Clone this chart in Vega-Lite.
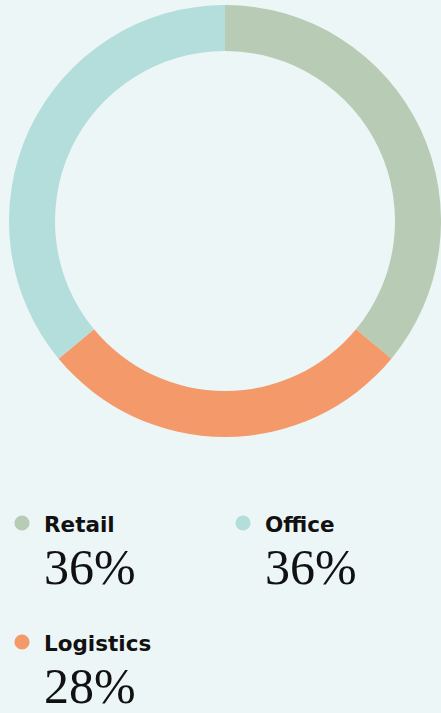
{
  "$schema": "https://vega.github.io/schema/vega-lite/v6.json",
  "padding": 0,
  "background": "#edf6f7",
  "config": {"view": {"stroke": null}, "header": {"labels": false, "title": null, "labelFontSize": 0, "labelPadding": 0, "titlePadding": 0}},
  "datasets": {
    "shares": [
      {"category": "Retail", "share": 0.36},
      {"category": "Logistics", "share": 0.28},
      {"category": "Office", "share": 0.36}
    ]
  },
  "spacing": 0,
  "bounds": "flush",
  "vconcat": [
    {
      "width": 441,
      "height": 442,
      "data": {"name": "shares"},
      "transform": [{"window": [{"op": "row_number", "as": "rank"}]}],
      "mark": {"type": "arc", "innerRadius": 170, "outerRadius": 216, "x": 225, "y": 221, "stroke": null},
      "encoding": {
        "theta": {"field": "share", "type": "quantitative", "stack": true},
        "order": {"field": "rank", "type": "quantitative"},
        "color": {
          "field": "category", "type": "nominal",
          "scale": {"domain": ["Retail", "Logistics", "Office"], "range": ["#b8cbb4", "#f4996a", "#b3dedb"]},
          "legend": null
        }
      }
    },
    {
      "data": {"name": "shares"},
      "facet": {
        "field": "category", "type": "nominal",
        "sort": ["Retail", "Office", "Logistics"],
        "header": null
      },
      "columns": 2,
      "spacing": 0,
      "bounds": "flush",
      "spec": {
        "width": 220.5,
        "height": 119,
        "layer": [
          {
            "mark": {"type": "point", "filled": true, "opacity": 1, "size": 230, "shape": "circle"},
            "encoding": {
              "x": {"value": 22},
              "y": {"value": 81},
              "color": {
                "field": "category", "type": "nominal",
                "scale": {"domain": ["Retail", "Logistics", "Office"], "range": ["#b8cbb4", "#f4996a", "#b3dedb"]},
                "legend": null
              }
            }
          },
          {
            "mark": {"type": "text", "align": "left", "baseline": "alphabetic", "font": "DejaVu Sans", "fontWeight": "bold", "fontSize": 21.5, "color": "#111111"},
            "encoding": {
              "x": {"value": 44},
              "y": {"value": 90},
              "text": {"field": "category", "type": "nominal"}
            }
          },
          {
            "mark": {"type": "text", "align": "left", "baseline": "alphabetic", "font": "Liberation Serif", "fontSize": 50, "color": "#111111"},
            "encoding": {
              "x": {"value": 44},
              "y": {"value": 142},
              "text": {"field": "share", "type": "quantitative", "format": ".0%"}
            }
          }
        ]
      }
    }
  ]
}
